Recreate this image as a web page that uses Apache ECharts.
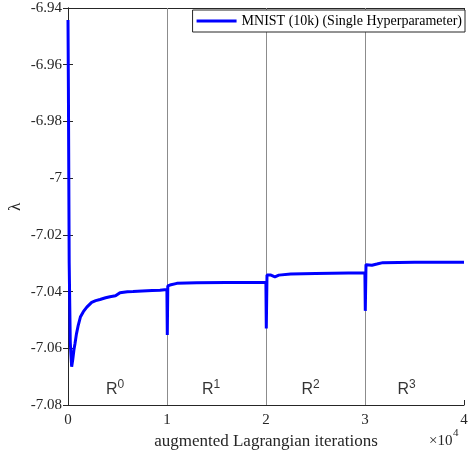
<!DOCTYPE html>
<html>
<head>
<meta charset="utf-8">
<script src="https://cdn.jsdelivr.net/npm/echarts@6/dist/echarts.min.js"></script>
<style>
html,body{margin:0;padding:0;background:#fff;}
#chart{width:468px;height:457px;}
</style>
</head>
<body>
<div id="chart"></div>
<script>
// lambda trace, [iteration, value]
var lambdaPts = [
  [0,-6.9442],[40,-6.968],[120,-7.03],[230,-7.058],[370,-7.0665],[480,-7.064],
  [600,-7.0605],[700,-7.0585],[850,-7.055],[1040,-7.0518],[1250,-7.049],[1550,-7.0471],
  [1900,-7.0455],[2390,-7.0438],[2800,-7.0432],[3230,-7.0428],[3800,-7.0422],[4240,-7.0418],
  [4800,-7.0415],[5000,-7.0412],[5250,-7.0404],[6000,-7.0401],[6570,-7.0400],[7500,-7.0398],
  [8500,-7.0396],[9290,-7.0395],[9990,-7.0393],
  [10000,-7.0393],[10030,-7.0553],[10080,-7.0380],[10300,-7.0377],[11000,-7.0371],
  [13000,-7.0369],[16000,-7.0368],[19990,-7.0368],
  [20000,-7.0368],[20030,-7.0530],[20100,-7.0342],[20500,-7.0342],[20900,-7.0348],
  [21300,-7.0342],[22500,-7.0338],[25000,-7.0336],[29990,-7.0334],
  [30000,-7.0334],[30030,-7.0468],[30100,-7.0305],[30300,-7.0301],[30700,-7.0307],
  [31200,-7.0303],[31800,-7.0298],[35000,-7.0297],[40000,-7.0297]
];
var restarts = [10000, 20000, 30000];
var regionNames = ['0', '1', '2', '3'];
var regionX = [4750, 14450, 24500, 34200];
var regionY = -7.0745;
var seriesName = 'MNIST (10k) (Single Hyperparameter)';

var axisColor = '#262626';
var serif = 'Liberation Serif';

var chart = echarts.init(document.getElementById('chart'));

var regionData = [];
for (var i = 0; i < regionNames.length; i++) {
  regionData.push({value: [regionX[i], regionY], name: regionNames[i]});
}

var option = {
  animation: false,
  grid: {left: 68, right: 4, top: 8, bottom: 52, show: false, containLabel: false, outerBoundsMode: 'none'},
  legend: {
    data: [seriesName],
    right: 3, top: 10,
    icon: 'rect',
    itemWidth: 40, itemHeight: 3, itemGap: 4,
    padding: [4, 3, 4, 4],
    borderColor: axisColor, borderWidth: 1,
    backgroundColor: '#fff',
    textStyle: {fontFamily: serif, fontSize: 14, color: '#000'}
  },
  xAxis: [{
    type: 'value', min: 0, max: 40000, interval: 10000,
    name: 'augmented Lagrangian iterations', nameLocation: 'middle', nameGap: 28,
    nameTextStyle: {fontFamily: serif, fontSize: 17, color: axisColor},
    axisLine: {lineStyle: {color: axisColor}},
    axisTick: {inside: true, length: 5, lineStyle: {color: axisColor}},
    axisLabel: {fontFamily: serif, fontSize: 15, color: axisColor, margin: 8,
      formatter: function (v) { return v / 10000; }},
    splitLine: {show: false}
  }, {
    type: 'value', min: 0, max: 40000, interval: 10000, position: 'top',
    axisLine: {show: true, lineStyle: {color: axisColor}},
    axisTick: {inside: true, length: 5, lineStyle: {color: axisColor}},
    axisLabel: {show: false}, splitLine: {show: false}
  }],
  yAxis: [{
    type: 'value', min: -7.08, max: -6.94, interval: 0.02,
    axisLine: {show: true, lineStyle: {color: axisColor}},
    axisTick: {show: true, inside: true, length: 5, lineStyle: {color: axisColor}},
    axisLabel: {fontFamily: serif, fontSize: 15, color: axisColor, margin: 6,
      formatter: function (v) { return String(parseFloat(v.toFixed(2))); }},
    splitLine: {show: false}
  }, {
    type: 'value', min: -7.08, max: -6.94, interval: 0.02, position: 'right',
    axisLine: {show: true, lineStyle: {color: axisColor}},
    axisTick: {show: true, inside: true, length: 5, lineStyle: {color: axisColor}},
    axisLabel: {show: false}, splitLine: {show: false}
  }],
  graphic: [
    {type: 'text', x: 16, y: 207, rotation: Math.PI / 2,
      style: {text: 'λ', fontFamily: serif, fontSize: 17, fill: axisColor, align: 'center', verticalAlign: 'middle'}},
    {type: 'text', left: 429, top: 434, style: {text: '×10', fontFamily: serif, fontSize: 15, fill: axisColor}},
    {type: 'text', left: 453, top: 428, style: {text: '4', fontFamily: serif, fontSize: 11, fill: axisColor}}
  ],
  series: [{
    name: seriesName,
    type: 'line',
    data: lambdaPts,
    symbol: 'none',
    lineStyle: {color: '#0000ff', width: 3},
    itemStyle: {color: '#0000ff'},
    z: 5,
    markLine: {
      silent: true, symbol: 'none', label: {show: false},
      lineStyle: {color: '#8c8c8c', width: 1, type: 'solid'},
      data: restarts.map(function (r) { return {xAxis: r}; }),
      z: 1
    }
  }, {
    name: 'regions',
    type: 'scatter',
    data: regionData,
    symbolSize: 0,
    silent: true,
    label: {
      show: true, position: 'inside',
      formatter: function (p) { return '{r|R}{s|' + p.name + '}'; },
      rich: {
        r: {fontFamily: 'Liberation Sans', fontSize: 16, color: '#000', lineHeight: 20},
        s: {fontFamily: 'Liberation Sans', fontSize: 12, color: '#000', padding: [0, 0, 10, 0], lineHeight: 20}
      }
    }
  }]
};
chart.setOption(option);
</script>
</body>
</html>
